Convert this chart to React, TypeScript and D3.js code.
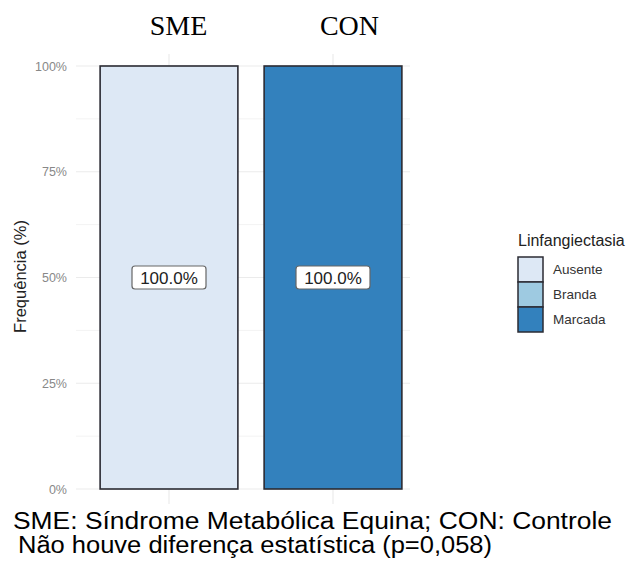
import React from "react";
import * as d3 from "d3";

const groups = ["SME", "CON"];
const levels = ["Ausente", "Branda", "Marcada"];
const levelColors = ["#dde8f5", "#9ecae1", "#3381bd"];
// percentage per group per level
const smeValues = [100, 0, 0];
const conValues = [0, 0, 100];
const yTicks = [0, 25, 50, 75, 100];
const yMinor = [12.5, 37.5, 62.5, 87.5];
const legendTitle = "Linfangiectasia";
const yTitle = "Frequência (%)";
const captionLines = [
  "SME: Síndrome Metabólica Equina; CON: Controle",
  "Não houve diferença estatística (p=0,058)",
];

const W = 635;
const H = 564;

export default function App() {
  const y = d3.scaleLinear().domain([0, 100]).range([489, 66]);
  const x = d3
    .scaleBand<string>()
    .domain(groups)
    .range([87, 415])
    .paddingInner(0.16)
    .paddingOuter(0.08);
  const header = d3.scalePoint<string>().domain(groups).range([178.5, 349.5]);
  const panelL = 76;
  const panelR = 410;
  const valuesByGroup: Record<string, number[]> = { SME: smeValues, CON: conValues };

  const stacks = groups.map((g) => {
    const vals = valuesByGroup[g];
    let acc = 0;
    return vals.map((v, i) => {
      const s = { group: g, level: i, y0: acc, y1: acc + v, v };
      acc += v;
      return s;
    });
  });

  const font = "Liberation Sans, Arial, sans-serif";

  return (
    <svg
      width={W}
      height={H}
      style={{ position: "absolute", left: 0, top: 0, background: "#fff" }}
      fontFamily={font}
    >
      {/* grid */}
      {yMinor.map((t) => (
        <line key={"m" + t} x1={panelL} x2={panelR} y1={y(t)} y2={y(t)} stroke="#f3f3f3" strokeWidth={1} />
      ))}
      {yTicks.map((t) => (
        <line key={"g" + t} x1={panelL} x2={panelR} y1={y(t)} y2={y(t)} stroke="#ebebeb" strokeWidth={1.2} />
      ))}
      {groups.map((g) => (
        <line
          key={"v" + g}
          x1={x(g)! + x.bandwidth() / 2}
          x2={x(g)! + x.bandwidth() / 2}
          y1={54}
          y2={504}
          stroke="#ebebeb"
          strokeWidth={1.2}
        />
      ))}
      {/* y tick labels */}
      {yTicks.map((t) => (
        <text key={"t" + t} x={67} y={y(t)} dy="0.36em" textAnchor="end" fontSize={12.5} fill="#888">
          {t + "%"}
        </text>
      ))}
      <text
        transform={`translate(26,${276.5}) rotate(-90)`}
        textAnchor="middle"
        fontSize={16.5}
        fill="#222"
      >
        {yTitle}
      </text>
      {/* bars */}
      {stacks.flat().filter((s) => s.v > 0).map((s) => (
        <rect
          key={s.group + s.level}
          x={x(s.group)!}
          width={x.bandwidth()}
          y={y(s.y1)}
          height={y(s.y0) - y(s.y1)}
          fill={levelColors[s.level]}
          stroke="#2b2b33"
          strokeWidth={1.6}
        />
      ))}
      {/* labels */}
      {stacks.flat().filter((s) => s.v > 0).map((s) => {
        const cx = x(s.group)! + x.bandwidth() / 2;
        const cy = y((s.y0 + s.y1) / 2);
        return (
          <g key={"l" + s.group + s.level}>
            <rect x={cx - 37} y={cy - 11.5} width={74} height={23} rx={3} fill="#fff" stroke="#666" strokeWidth={1.2} />
            <text x={cx} y={cy} dy="0.36em" textAnchor="middle" fontSize={17} fill="#222">
              {s.v.toFixed(1) + "%"}
            </text>
          </g>
        );
      })}
      {/* top group labels */}
      {groups.map((g) => (
        <text
          key={"h" + g}
          x={header(g)!}
          y={35}
          textAnchor="middle"
          fontSize={28}
          fontFamily="Liberation Serif, Times New Roman, serif"
          fill="#000"
        >
          {g}
        </text>
      ))}
      {/* legend */}
      <text x={518} y={246} fontSize={16} fill="#222">
        {legendTitle}
      </text>
      {levels.map((l, i) => (
        <g key={"k" + l} transform={`translate(518,${257 + i * 25})`}>
          <rect x={0} y={0} width={25} height={25} fill={levelColors[i]} stroke="#2b2b33" strokeWidth={1.5} />
          <text x={35} y={12.5} dy="0.36em" fontSize={13.5} fill="#333">
            {l}
          </text>
        </g>
      ))}
      {/* caption */}
      <text x={13} y={529} fontSize={23} fill="#000" textLength={599} lengthAdjust="spacingAndGlyphs">
        {captionLines[0]}
      </text>
      <text x={18} y={553} fontSize={23} fill="#000" textLength={474} lengthAdjust="spacingAndGlyphs">
        {captionLines[1]}
      </text>
    </svg>
  );
}
